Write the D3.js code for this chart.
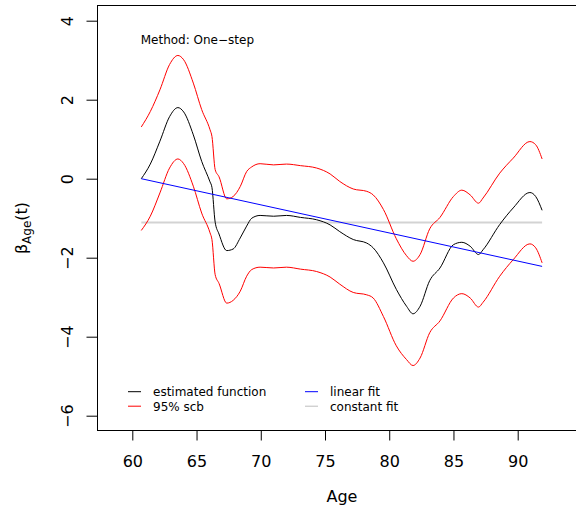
<!DOCTYPE html>
<html lang="en">
<head>
  <meta charset="UTF-8">
  <title>Age effect</title>
  <style>
    html, body { margin: 0; background: #fff; }
    svg { display: block; }
  </style>
</head>
<body>
  <script src="https://cdn.jsdelivr.net/npm/d3@7"></script>
  <script>
    const ages = [60.7, 61.4, 62.15, 62.9, 63.55, 64.0, 64.75, 65.4, 66.05, 66.2, 66.45, 66.75,
      67.35, 67.85, 68.4, 68.9, 69.3, 69.95, 71.0, 72.0, 73.1, 74.35, 75.4, 76.15, 77.2,
      78.25, 78.75, 79.55, 80.55, 81.35, 81.85, 82.4, 83.15, 83.95, 85.0, 85.65, 86.3,
      86.95, 87.3, 88.6, 89.65, 90.95, 91.4, 91.9];

    const estimate = [0, 0.37, 0.95, 1.57, 1.80, 1.69, 1.11, 0.44, -0.08, -0.22, -1.1, -1.4,
      -1.82, -1.78, -1.5, -1.2, -1.0, -0.93, -0.95, -0.93, -0.98, -1.04, -1.17, -1.34, -1.54,
      -1.63, -1.75, -2.13, -2.8, -3.23, -3.42, -3.23, -2.58, -2.26, -1.67, -1.61, -1.71,
      -1.92, -1.8, -1.16, -0.74, -0.35, -0.45, -0.8];

    const upper = [1.31, 1.7, 2.25, 2.89, 3.12, 3.01, 2.42, 1.75, 1.24, 1.07, 0.23, 0.05,
      -0.51, -0.45, -0.2, 0.18, 0.3, 0.38, 0.35, 0.37, 0.33, 0.27, 0.12, -0.07, -0.26,
      -0.32, -0.41, -0.78, -1.52, -1.95, -2.09, -1.92, -1.27, -0.98, -0.45, -0.29, -0.41,
      -0.62, -0.49, 0.14, 0.52, 0.94, 0.86, 0.5];

    const lower = [-1.31, -0.95, -0.36, 0.27, 0.5, 0.38, -0.19, -0.87, -1.37, -1.54, -2.43, -2.65,
      -3.15, -3.08, -2.85, -2.47, -2.3, -2.24, -2.26, -2.24, -2.29, -2.35, -2.49, -2.67, -2.88,
      -2.94, -3.02, -3.49, -4.23, -4.58, -4.73, -4.54, -3.9, -3.6, -3.02, -2.91, -3.02,
      -3.25, -3.13, -2.47, -2.05, -1.65, -1.75, -2.13];

    const linearFit = [[60.7, 0], [91.9, -2.22]];
    const constantFit = [[60.7, -1.11], [91.9, -1.11]];

    const xTicks = [60, 65, 70, 75, 80, 85, 90];
    const yTicks = [4, 2, 0, -2, -4, -6];

    const legendItems = [
      { label: "estimated function", color: "black", col: 0, row: 0 },
      { label: "95% scb", color: "red", col: 0, row: 1 },
      { label: "linear fit", color: "blue", col: 1, row: 0 },
      { label: "constant fit", color: "#bdbdbd", col: 1, row: 1 }
    ];

    const width = 576, height = 512;
    const box = { left: 97, top: 5, right: 640, bottom: 430 };
    const font = "'DejaVu Sans', sans-serif";

    const x = d3.scaleLinear().domain([60, 90]).range([132.3, 517.7]);
    const y = d3.scaleLinear().domain([-6, 4]).range([415.7, 20.7]);

    const svg = d3.select("body")
      .append("svg")
      .attr("width", width)
      .attr("height", height);

    // plot box (runs off the right edge like the original)
    svg.append("rect")
      .attr("x", box.left + 0.5)
      .attr("y", box.top + 0.5)
      .attr("width", box.right - box.left)
      .attr("height", box.bottom - box.top)
      .attr("fill", "none")
      .attr("stroke", "black")
      .attr("stroke-width", 1);

    // x axis
    const xAxis = svg.append("g")
      .attr("transform", `translate(0,${box.bottom + 0.5})`)
      .call(d3.axisBottom(x).tickValues(xTicks).tickSize(10).tickPadding(15).tickFormat(d3.format("d")));
    xAxis.select(".domain").remove();
    xAxis.selectAll("text").attr("font-size", 16).attr("font-family", font).attr("fill", "black");

    // y axis, labels turned like base R
    const yAxis = svg.append("g")
      .attr("transform", `translate(${box.left + 0.5},0)`)
      .call(d3.axisLeft(y).tickValues(yTicks).tickSize(11).tickFormat(d => d < 0 ? "\u2212" + Math.abs(d) : d));
    yAxis.select(".domain").remove();
    yAxis.selectAll("text")
      .attr("font-size", 16)
      .attr("font-family", font)
      .attr("fill", "black")
      .attr("x", null)
      .attr("dy", null)
      .attr("text-anchor", "middle")
      .attr("transform", "translate(-25,0) rotate(-90)");

    // axis titles
    svg.append("text")
      .attr("x", 342)
      .attr("y", 502)
      .attr("text-anchor", "middle")
      .attr("font-family", font)
      .attr("font-size", 16)
      .text("Age");

    const yTitle = svg.append("text")
      .attr("transform", "translate(27,228) rotate(-90)")
      .attr("text-anchor", "middle")
      .attr("font-family", font)
      .attr("font-size", 16);
    yTitle.append("tspan").text("\u03B2");
    yTitle.append("tspan").attr("font-size", 12).attr("dy", 4).text("Age");
    yTitle.append("tspan").attr("dy", -4).text("(t)");

    // clip to the plot box
    svg.append("clipPath").attr("id", "clip")
      .append("rect")
      .attr("x", box.left).attr("y", box.top)
      .attr("width", box.right - box.left).attr("height", box.bottom - box.top);

    const plot = svg.append("g").attr("clip-path", "url(#clip)");

    const line = d3.line()
      .x(d => x(d[0]))
      .y(d => y(d[1]))
      .curve(d3.curveMonotoneX);

    const straight = d3.line().x(d => x(d[0])).y(d => y(d[1]));

    plot.append("path")
      .attr("d", straight(constantFit))
      .attr("fill", "none")
      .attr("stroke", "#d3d3d3")
      .attr("stroke-width", 2);

    plot.append("path")
      .attr("d", line(d3.zip(ages, upper)))
      .attr("fill", "none")
      .attr("stroke", "red")
      .attr("stroke-width", 1);

    plot.append("path")
      .attr("d", line(d3.zip(ages, lower)))
      .attr("fill", "none")
      .attr("stroke", "red")
      .attr("stroke-width", 1);

    plot.append("path")
      .attr("d", line(d3.zip(ages, estimate)))
      .attr("fill", "none")
      .attr("stroke", "black")
      .attr("stroke-width", 1);

    plot.append("path")
      .attr("d", straight(linearFit))
      .attr("fill", "none")
      .attr("stroke", "blue")
      .attr("stroke-width", 1);

    // method label
    svg.append("text")
      .attr("x", 140.7)
      .attr("y", 44)
      .attr("font-family", font)
      .attr("font-size", 12)
      .text("Method: One\u2212step");

    // legend
    const legend = svg.append("g");
    legendItems.forEach(item => {
      const lx = item.col === 0 ? 128 : 305;
      const ly = 391.7 + item.row * 14.5;
      legend.append("line")
        .attr("x1", lx).attr("x2", lx + 13)
        .attr("y1", ly).attr("y2", ly)
        .attr("stroke", item.color)
        .attr("stroke-width", 1);
      legend.append("text")
        .attr("x", lx + 25)
        .attr("y", ly + 4.3)
        .attr("font-family", font)
        .attr("font-size", 12)
        .text(item.label);
    });
  </script>
</body>
</html>
